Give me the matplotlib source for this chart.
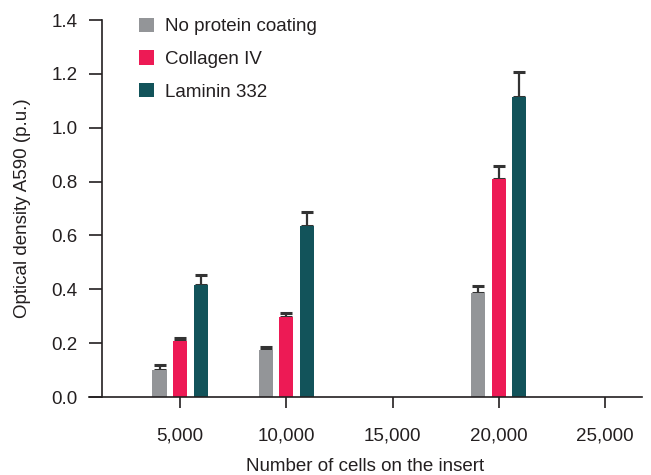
import matplotlib
matplotlib.use("Agg")
import matplotlib.pyplot as plt
from matplotlib.patches import Patch
import numpy as np

plt.rcParams['font.family'] = ['Liberation Sans', 'DejaVu Sans']

cells = [5000, 10000, 20000]
series = ["No protein coating", "Collagen IV", "Laminin 332"]
values = [
    [0.10, 0.175, 0.387],
    [0.208, 0.297, 0.81],
    [0.416, 0.635, 1.114],
]
errors = [
    [0.02, 0.011, 0.025],
    [0.012, 0.016, 0.047],
    [0.037, 0.052, 0.094],
]
colors = ["#939598", "#ED1A55", "#12535A"]
xticks = [5000, 10000, 15000, 20000, 25000]
xticklabels = ["5,000", "10,000", "15,000", "20,000", "25,000"]
yticks = [0.0, 0.2, 0.4, 0.6, 0.8, 1.0, 1.2, 1.4]

fig = plt.figure(figsize=(6.51, 4.75), dpi=100)
ax = fig.add_axes([89/651, 1-397/475, 553/651, 377/475])

offset = 965
width = 660
ink = "#231f20"
fs = 13.5
for i, (name, vals, errs, c) in enumerate(zip(series, values, errors, colors)):
    xs = np.array(cells) + (i - 1) * offset
    ax.bar(xs, vals, width=width, color=c, zorder=2)
    ax.errorbar(xs, vals, yerr=[np.zeros(len(errs)), errs], fmt='none',
                ecolor="#333333", elinewidth=1.6, capsize=4.5, capthick=2.2, zorder=1)

ax.set_xlim(717, 26741)
ax.set_ylim(0, 1.4)
ax.set_xticks(xticks)
ax.set_xticklabels(xticklabels)
ax.set_yticks(yticks)
ax.set_yticklabels([f"{v:.1f}" for v in yticks])

for s in ["top", "right"]:
    ax.spines[s].set_visible(False)
ax.spines["left"].set_position(("data", 1329))
for s in ["left", "bottom"]:
    ax.spines[s].set_linewidth(1.2)
    ax.spines[s].set_color(ink)

ax.tick_params(axis='y', length=9.5, width=1.2, color=ink, pad=8, labelsize=fs, labelcolor=ink)
ax.tick_params(axis='x', length=8, width=1.2, color=ink, pad=14, labelsize=fs, labelcolor=ink)

ax.set_xlabel("Number of cells on the insert", fontsize=fs, color=ink, labelpad=10)
ax.set_ylabel("Optical density A590 (p.u.)", fontsize=fs, color=ink, labelpad=15)

handles = [Patch(facecolor=c, edgecolor='none') for c in colors]
leg = ax.legend(handles, series, loc='upper left', bbox_to_anchor=(135/651, 1-14/475),
                bbox_transform=fig.transFigure, frameon=False, fontsize=fs,
                handlelength=0.8, handleheight=0.8, handletextpad=0.6,
                labelspacing=0.8, borderaxespad=0, borderpad=0.2)
for t in leg.get_texts():
    t.set_color(ink)

fig.savefig("out.png", dpi=100)
